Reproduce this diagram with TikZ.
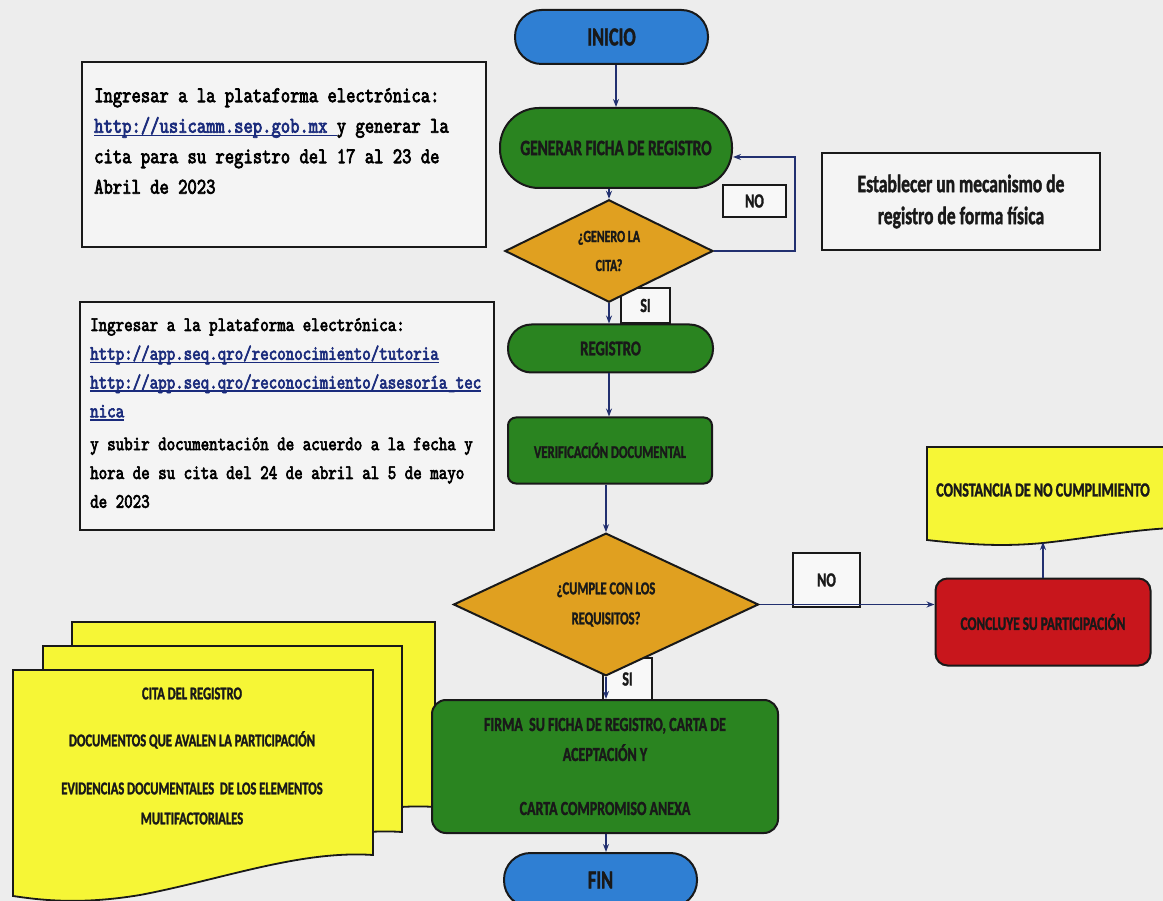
\documentclass[tikz,border=0pt]{standalone}
\usepackage{fontspec}
\usetikzlibrary{shapes.geometric,arrows.meta}
\newfontfamily\cb[FakeStretch=0.7, BoldFeatures={FakeBold=1.5}]{Carlito}
\newfontfamily\mono{lmmono10}[Extension=.otf, UprightFont=*-regular, BoldFont=*-regular, FakeStretch=0.79, BoldFeatures={FakeBold=3}]
\definecolor{bgc}{HTML}{EDEDED}
\definecolor{blu}{HTML}{2F7FD3}
\definecolor{grn}{HTML}{2A8420}
\definecolor{gld}{HTML}{E0A020}
\definecolor{rd}{HTML}{C8161C}
\definecolor{yel}{HTML}{F6F636}
\definecolor{nav}{HTML}{223070}
\definecolor{url}{HTML}{1A2B7C}
\newcommand\fsz[2]{\fontsize{#1}{#2}\selectfont}
\newcommand\myul[1]{\sbox0{\color{url}#1}\rlap{\color{url}\rule[-3.5pt]{\wd0}{1.6pt}}\usebox0}
\begin{document}
\begin{tikzpicture}[x=1pt,y=-1pt,
  base/.style={draw=black!90, line width=2pt, inner sep=0pt, align=center, text=black!90},
  termb/.style={base, fill=blu, minimum width=193pt, minimum height=54pt, rounded corners=26.5pt, font=\cb\bfseries\fsz{26}{30}},
  procg/.style={base, fill=grn, font=\cb\bfseries\fsz{20}{23}},
  dec/.style={base, diamond, fill=gld},
  lab/.style={draw=black!90, line width=1.8pt, fill=white!60!bgc, inner sep=0pt, font=\cb\bfseries\fsz{20}{23}, text=black!90},
  lbox/.style={draw=black!90, line width=2pt, fill=white!40!bgc, inner sep=0pt},
  docy/.style={draw=black!90, line width=1.8pt, fill=yel},
  arr/.style={draw=nav, line width=1.5pt, -{Stealth[length=8pt,width=6pt]}}]
\fill[bgc] (0,0) rectangle (1163,901);
\useasboundingbox (0,0) rectangle (1163,901);

% left info boxes
\node[lbox, minimum width=404pt, minimum height=185pt] (b1) at (284,154.5) {};
\node[anchor=north west, inner sep=0pt, align=left, text=black, font=\mono\bfseries\fsz{22.5}{30.5}] (t1) at (94,88)
 {Ingresar a la plataforma electrónica:\\ \myul{http://usicamm.sep.gob.mx\ }y generar la\\ cita para su registro del 17 al 23 de\\ Abril de 2023};
\node[lbox, minimum width=414pt, minimum height=228pt] (b2) at (287,416) {};
\node[anchor=north west, inner sep=0pt, align=left, text=black, font=\mono\bfseries\fsz{20.5}{28.8}] (t2) at (90,318)
 {Ingresar a la plataforma electrónica:\\ \myul{http://app.seq.qro/reconocimiento/tutoria}\\ \myul{http://app.seq.qro/reconocimiento/asesoría\_tec}\\ \myul{nica}\\[4pt] y subir documentación de acuerdo a la fecha y\\ hora de su cita del 24 de abril al 5 de mayo\\ de 2023};

% establecer box
\node[lbox, minimum width=278pt, minimum height=97pt, align=center, text=black!90, font=\cb\bfseries\fsz{25}{30}] (est) at (961,201.5) {Establecer un mecanismo de\\[2pt]registro de forma física};

% multi-document
\filldraw[docy] (72,622) -- (435,622) -- (435,807) .. controls (362,802) and (282,832) .. (202,847) .. controls (142,857) and (102,852) .. (72,848) -- cycle;
\filldraw[docy] (43,646) -- (402,646) -- (402,832) .. controls (330,827) and (250,857) .. (170,872) .. controls (110,882) and (70,877) .. (43,873) -- cycle;
\filldraw[docy] (13,670) -- (373,670) -- (373,855) .. controls (300,850) and (220,880) .. (140,895) .. controls (80,905) and (40,900) .. (13,896) -- cycle;
\node[align=center, inner sep=0pt, text=black!90, font=\cb\bfseries\fsz{18}{21}] (doct) at (192,756)
 {CITA DEL REGISTRO\\[26pt]DOCUMENTOS QUE AVALEN LA PARTICIPACIÓN\\[27pt]EVIDENCIAS DOCUMENTALES\ \ DE LOS ELEMENTOS\\[9pt]MULTIFACTORIALES};

% constancia document
\filldraw[docy] (927,447) -- (1172,447) -- (1172,528) .. controls (1130,530) and (1090,538) .. (1043,543) .. controls (1010,546) and (980,546) .. (927,540) -- cycle;
\node[inner sep=0pt, text=black!90, font=\cb\bfseries\fsz{20}{23}] (cons) at (1043,490) {CONSTANCIA DE NO CUMPLIMIENTO};
\coordinate (consb) at (1043,542);

% labels behind diamonds
\node[lab, minimum width=63pt, minimum height=32pt] (no1) at (754.5,201) {\raisebox{-6pt}{NO}};
\node[lab, minimum width=49pt, minimum height=35pt] (si1) at (645.5,305.5) {\raisebox{-7pt}{SI}};
\node[lab, minimum width=67pt, minimum height=54pt] (no2) at (826.5,580) {NO};
\node[lab, minimum width=49pt, minimum height=42pt] (si2) at (627.5,679) {\raisebox{-8pt}{SI}};

% main flow
\node[termb] (inicio) at (611.5,37) {INICIO};
\node[procg, minimum width=232pt, minimum height=80pt, rounded corners=39pt, font=\cb\bfseries\fsz{22}{26}] (gen) at (616,148) {GENERAR FICHA DE REGISTRO};
\node[dec, minimum width=208pt, minimum height=79pt, font=\cb\bfseries\fsz{17}{20}] (d1) at (609,251) {¿GENERO LA\\[9pt]CITA?};
\node[procg, minimum width=205pt, minimum height=48pt, rounded corners=23.5pt, font=\cb\bfseries\fsz{21}{24}] (reg) at (610.5,348.5) {REGISTRO};
\node[procg, minimum width=204pt, minimum height=66pt, rounded corners=8pt, font=\cb\bfseries\fsz{18}{21}] (ver) at (610,450.5) {VERIFICACIÓN DOCUMENTAL};
\node[dec, minimum width=305pt, minimum height=137pt, font=\cb\bfseries\fsz{18}{21}] (d2) at (606,604.5) {¿CUMPLE CON LOS\\[9pt]REQUISITOS?};
\node[base, fill=rd, minimum width=215pt, minimum height=87pt, rounded corners=12pt, font=\cb\bfseries\fsz{19}{22}] (conc) at (1043,622) {CONCLUYE SU PARTICIPACIÓN};
\node[procg, minimum width=346pt, minimum height=133pt, rounded corners=14pt, font=\cb\bfseries\fsz{20}{23}] (firma) at (605,766.5) {FIRMA\ \ SU FICHA DE REGISTRO, CARTA DE\\[7pt]ACEPTACIÓN Y\\[31pt]CARTA COMPROMISO ANEXA};
\node[termb] (fin) at (600.5,880) {FIN};

% connectors
\coordinate (lp) at (795,157);
\draw[arr] (inicio.south -| gen.north) -- (gen.north);
\draw[arr] (gen.south -| d1.north) -- (d1.north);
\draw[arr] (d1.east) -- (d1.east -| lp) -- (lp) -- (lp -| gen.east);
\draw[arr] (d1.south) -- (d1.south |- reg.north);
\draw[arr] (reg.south -| d1.south) -- (ver.north -| d1.south);
\draw[arr] (ver.south -| d2.north) -- (d2.north);
\draw[arr] (d2.south) -- (d2.south |- firma.north);
\draw[arr] (d2.east) -- (d2.east -| conc.west);
\draw[arr] (conc.north) -- (consb);
\draw[arr] (firma.south -| d2.south) -- (fin.north -| d2.south);
\end{tikzpicture}
\end{document}
